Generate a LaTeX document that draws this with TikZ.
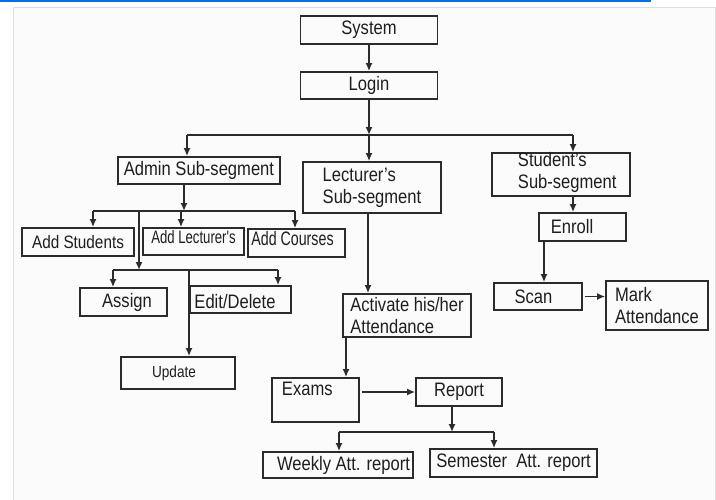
\documentclass[tikz,border=0pt]{standalone}
\usepackage{fontspec}
\setmainfont{Liberation Sans}[FakeStretch=0.85]
\newfontfamily\narrowfont{Liberation Sans}[FakeStretch=0.73]
\usetikzlibrary{arrows.meta}
\definecolor{boxgray}{HTML}{2B2B2B}
\definecolor{inkgray}{HTML}{1E1E1E}
\definecolor{topblue}{HTML}{0A6CF5}
\definecolor{framegray}{HTML}{DDDDDD}
\definecolor{paper}{HTML}{FBFBFB}
\tikzset{
  blk/.style={draw=boxgray, line width=1.7pt, inner sep=0pt, align=left, text=inkgray,
    font=\fontsize{19.5}{22}\selectfont},
  txt/.style={inner sep=0pt, align=left, text=inkgray, font=\fontsize{19.5}{22}\selectfont},
}
\begin{document}
\begin{tikzpicture}[x=1pt,y=-1pt,>={Latex[length=8pt,width=7pt]},line width=1.6pt,color=boxgray]
\useasboundingbox (0,0) rectangle (716,499);
\fill[white] (0,0) rectangle (716,499);
\filldraw[fill=paper,draw=framegray,line width=1pt] (13,7) rectangle (715,510);
\draw[topblue,line width=2pt] (0,1)--(651,1);

% top
\node[blk,minimum width=137pt,minimum height=28pt] (sys) at (369,30) {System};
\node[blk,minimum width=137pt,minimum height=27pt] (login) at (369,85.5) {Login};

% three sub-segments
\node[blk,minimum width=162pt,minimum height=27pt] (admin) at (199,170.5) {Admin Sub-segment};
\node[blk,minimum width=138pt,minimum height=51pt] (lect) at (372,187.5) {Lecturer's\\Sub-segment};
\node[blk,minimum width=138pt,minimum height=43pt,
  label={[txt,anchor=west,xshift=26pt,yshift=2pt]west:{Student's\\Sub-segment}}] (stud) at (561,174.5) {};

% admin side
\node[blk,minimum width=112pt,minimum height=28pt,font=\fontsize{18}{20}\selectfont] (addst) at (78,242) {Add Students};
\node[blk,minimum width=101pt,minimum height=27pt,
  label={[txt,anchor=center,font=\narrowfont\fontsize{18}{20}\selectfont,yshift=4pt]center:Add Lecturer's}] (addlec) at (193.5,241.5) {};
\node[blk,minimum width=97pt,minimum height=28pt,
  label={[txt,anchor=center,font=\narrowfont\fontsize{19.5}{22}\selectfont,xshift=-4pt,yshift=4.5pt]center:Add Courses}] (addco) at (296.5,243) {};
\node[blk,minimum width=87pt,minimum height=28pt,
  label={[txt,anchor=center,xshift=3.5pt]center:Assign}] (assign) at (123.5,302) {};
\node[blk,minimum width=101pt,minimum height=27pt,
  label={[txt,anchor=center,xshift=-5.5pt,yshift=-2.5pt]center:Edit/Delete}] (edit) at (240.5,299.5) {};
\node[blk,minimum width=114pt,minimum height=32pt,
  label={[txt,anchor=center,font=\fontsize{16}{18}\selectfont,xshift=-4pt]center:Update}] (update) at (178,373) {};

% lecturer side
\node[blk,minimum width=128pt,minimum height=43pt] (act) at (407,315.5) {Activate his/her\\Attendance};
\node[blk,minimum width=87pt,minimum height=44pt,
  label={[txt,anchor=north west,xshift=10pt,yshift=-4pt]north west:Exams}] (exams) at (315.5,400) {};
\node[blk,minimum width=86pt,minimum height=28pt] (report) at (459,392) {Report};
\node[blk,minimum width=150pt,minimum height=26pt,
  label={[txt,anchor=center,xshift=5.5pt]center:Weekly Att. report}] (weekly) at (338,465) {};
\node[blk,minimum width=167pt,minimum height=28pt] (sem) at (513.5,463) {Semester~ Att. report};

% student side
\node[blk,minimum width=87pt,minimum height=28pt,
  label={[txt,anchor=center,xshift=-10.5pt]center:Enroll}] (enroll) at (582.5,227) {};
\node[blk,minimum width=88pt,minimum height=27pt,
  label={[txt,anchor=center,xshift=-4.5pt]center:Scan}] (scan) at (538,296.5) {};
\node[blk,minimum width=102pt,minimum height=49pt] (mark) at (657,305.5) {Mark\\Attendance};

% junctions
\coordinate (j1) at (369,135);
\coordinate (jl) at (187,135);
\coordinate (jr) at (573,135);
\coordinate (j2) at (184,211);
\coordinate (j2l) at (93,211);
\coordinate (j2m) at (181,211);
\coordinate (j2r) at (295,211);
\coordinate (j3a) at (139,211);
\coordinate (j3) at (139,270);
\coordinate (j3l) at (113,270);
\coordinate (j3m) at (189,270);
\coordinate (j3r) at (278,270);
\coordinate (l1) at (368,213);
\coordinate (a1) at (346,337);
\coordinate (j4) at (452,432);
\coordinate (j4l) at (339,432);
\coordinate (j4r) at (494,432);
\coordinate (e1) at (544,241);

\draw[->](sys)--(login);
\draw[->](login)--(j1);
\draw(jl)--(jr);
\draw[->](jl)--(jl |- admin.north);
\draw[->](j1)--(j1 |- lect.north);
\draw[->](jr)--(jr |- stud.north);

\draw[->](admin.south -| j2)--(j2);
\draw(j2l)--(j2r);
\draw[->](j2l)--(j2l |- addst.north);
\draw[->](j2m)--(j2m |- addlec.north);
\draw[->](j2r)--(j2r |- addco.north);
\draw[->](j3a)--(j3);
\draw(j3l)--(j3r);
\draw[->](j3l)--(j3l |- assign.north);
\draw[->](j3r)--(j3r |- edit.north);
\draw[->](j3m)--(j3m |- update.north);

\draw[->](l1)--(l1 |- act.north);
\draw[->](a1)--(a1 |- exams.north);
\draw[->,shorten <=2pt](exams.east |- report.west)--(report.west);
\draw[->](report.south -| j4)--(j4);
\draw(j4l)--(j4r);
\draw[->](j4l)--(j4l |- weekly.north);
\draw[->](j4r)--(j4r |- sem.north);

\draw[->](stud.south -| jr)--(jr |- enroll.north);
\draw[->](e1)--(e1 |- scan.north);
\draw[->,shorten <=2pt](scan.east)--(scan.east -| mark.west);

\end{tikzpicture}
\end{document}
